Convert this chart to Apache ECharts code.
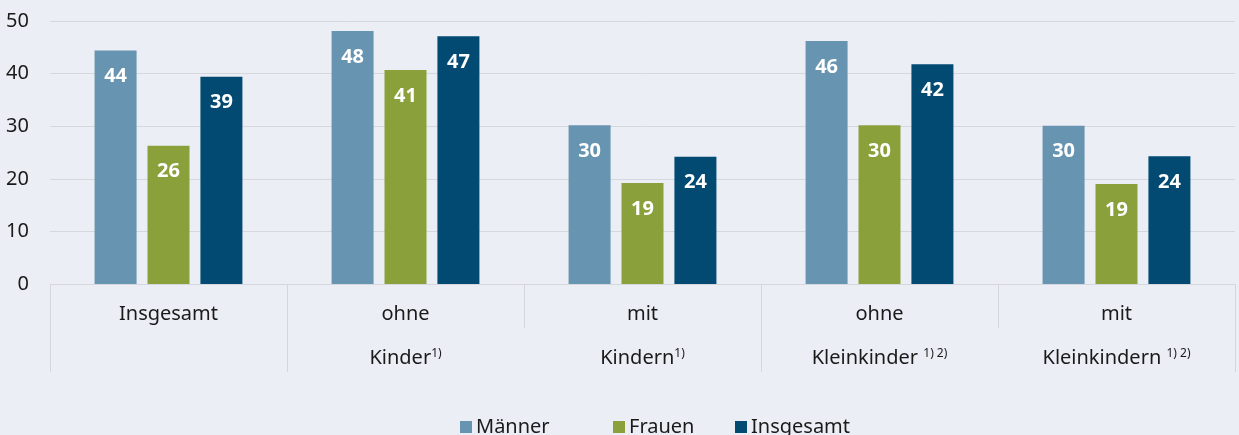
<!DOCTYPE html>
<html><head><meta charset="utf-8">
<script src="https://cdn.jsdelivr.net/npm/echarts@6/dist/echarts.min.js"></script>
<style>html,body{margin:0;padding:0;background:#ebeef5}#c{width:1239px;height:435px}</style>
</head><body><div id="c"></div>
<script>
const categories = ['Insgesamt', 'ohne', 'mit', 'ohne', 'mit'];
const subCategories = ['', 'Kinder{sup|1)}', 'Kindern{sup|1)}', 'Kleinkinder {sup|1) 2)}', 'Kleinkindern {sup|1) 2)}'];
const seriesNames = ['Männer', 'Frauen', 'Insgesamt'];
const maenner = [44.4, 48.1, 30.2, 46.2, 30.1];
const frauen = [26.3, 40.7, 19.2, 30.2, 19.0];
const insgesamt = [39.4, 47.1, 24.2, 41.8, 24.3];
const yMin = 0, yMax = 50, yStep = 10;

const colors = ['#6794b0', '#8aa03b', '#024a72'];
const FONT = 'Noto Sans';
const lineCol = '#d6d7dc';
const legendLeft = [455, 608, 730];

const chart = echarts.init(document.getElementById('c'), null, {renderer: 'canvas'});
const mkSeries = (name, data, i) => ({
  name, type: 'bar', data, barWidth: 42, barGap: '26%',
  itemStyle: {color: colors[i]},
  label: {show: true, position: 'insideTop', distance: 16, color: '#fff',
    fontFamily: FONT, fontWeight: 'bold', fontSize: 20,
    formatter: p => Math.round(p.value)}
});
chart.setOption({
  backgroundColor: '#ebeef5',
  textStyle: {fontFamily: FONT},
  animation: false,
  grid: {left: 50, right: 4, top: 21, bottom: 151, containLabel: false},
  legend: seriesNames.map((n, i) => ({
    data: [n], left: legendLeft[i], top: 412, icon: 'rect', itemWidth: 12, itemHeight: 12,
    textStyle: {fontFamily: FONT, fontSize: 20, color: '#1a1a1a', padding: [0, 0, 0, -1]}
  })),
  xAxis: [{
    type: 'category', data: categories, position: 'bottom',
    axisLine: {lineStyle: {color: lineCol}},
    axisTick: {show: true, length: 44, interval: 0, lineStyle: {color: lineCol}},
    axisLabel: {interval: 0, margin: 20, fontFamily: FONT, fontSize: 20, color: '#1a1a1a'}
  }, {
    type: 'category', data: subCategories, position: 'bottom', offset: 44,
    axisLine: {show: false},
    axisTick: {show: true, length: 44, lineStyle: {color: lineCol},
      interval: (idx) => idx === 0 || idx === 1 || idx === 3},
    axisLabel: {interval: 0, margin: 20, fontFamily: FONT, fontSize: 20, color: '#1a1a1a',
      formatter: v => v,
      rich: {sup: {fontSize: 12, verticalAlign: 'top', lineHeight: 12, padding: [0, 0, 8, 0]}}}
  }],
  yAxis: {
    type: 'value', min: yMin, max: yMax, interval: yStep,
    axisLine: {show: false}, axisTick: {show: false},
    splitLine: {lineStyle: {color: lineCol}},
    axisLabel: {margin: 21, fontFamily: FONT, fontSize: 20, color: '#1a1a1a'}
  },
  series: [mkSeries(seriesNames[0], maenner, 0), mkSeries(seriesNames[1], frauen, 1), mkSeries(seriesNames[2], insgesamt, 2)]
});
</script></body></html>
